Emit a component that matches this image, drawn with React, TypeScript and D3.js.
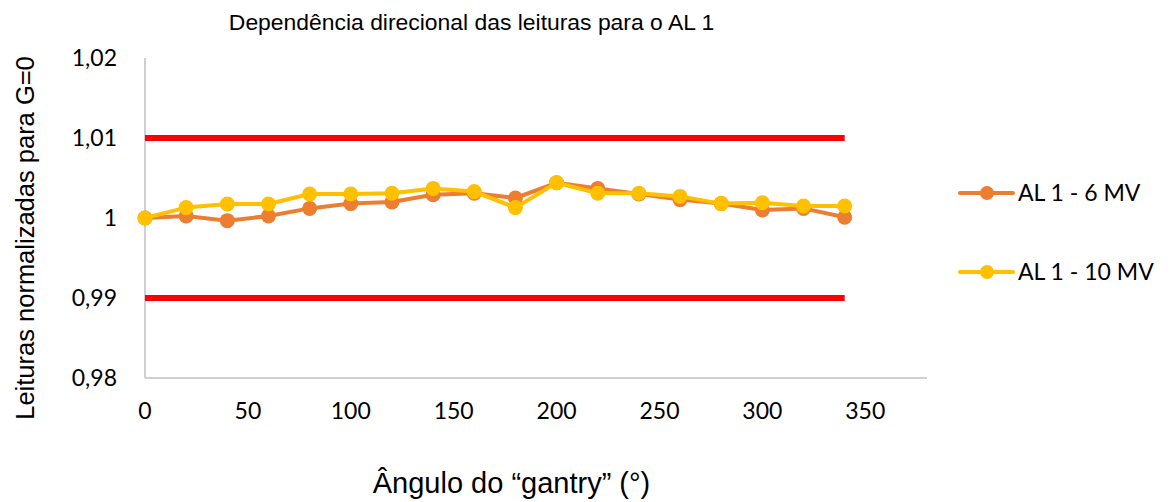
import React from "react";
import * as d3 from "d3";

const angles = [0, 20, 40, 60, 80, 100, 120, 140, 160, 180, 200, 220, 240, 260, 280, 300, 320, 340];
const series6MV = [1.0, 1.00025, 0.99967, 1.00025, 1.0012, 1.0018, 1.002, 1.0029, 1.0031, 1.0025, 1.0044, 1.0037, 1.003, 1.0023, 1.0018, 1.001, 1.0012, 1.0001];
const series10MV = [1.0, 1.0013, 1.00175, 1.00175, 1.003, 1.003, 1.0031, 1.0037, 1.0033, 1.0013, 1.0044, 1.0031, 1.0031, 1.0027, 1.0018, 1.0019, 1.0015, 1.0015];
const upperLimit = angles.map(() => 1.01);
const lowerLimit = angles.map(() => 0.99);
const xTicks = [0, 50, 100, 150, 200, 250, 300, 350];
const yTicks = [0.98, 0.99, 1.0, 1.01, 1.02];
const seriesNames = ["AL 1 - 6 MV", "AL 1 - 10 MV"];
const title = "Dependência direcional das leituras para o AL 1";
const xTitle = "Ângulo do “gantry” (°)";
const yTitle = "Leituras normalizadas para G=0";

const W = 1172, H = 502;
const tickFont = "Lato, 'Open Sans', sans-serif";
const arial = "'Liberation Sans', Arial, sans-serif";

export default function App() {
  const x = d3.scaleLinear().domain([0, 380]).range([145, 927]);
  const y = d3.scaleLinear().domain([0.98, 1.02]).range([378, 58]);
  const line = d3.line<number>().x((_, i) => x(angles[i])).y((d) => y(d));
  const fmt = (v: number) => (Math.abs(v - 1) < 1e-9 ? "1" : d3.format(".2f")(v).replace(".", ","));
  const colors = ["#ED7D31", "#FFC000"];
  const data = [series6MV, series10MV];
  return (
    <svg width={W} height={H} style={{ position: "absolute", left: 0, top: 0, background: "#fff" }}>
      <rect width={W} height={H} fill="#fff" />
      <text x={471.5} y={30} textAnchor="middle" fontFamily={arial} fontSize={22.9} fill="#000">{title}</text>
      {/* axes */}
      <line x1={x(0)} x2={x(0)} y1={y(1.02)} y2={y(0.98)} stroke="#D0D0D0" strokeWidth={2} />
      <line x1={x(0)} x2={x(380)} y1={y(0.98)} y2={y(0.98)} stroke="#D0D0D0" strokeWidth={2} />
      {yTicks.map((t) => (
        <text key={t} x={117} y={y(t)} dy="0.35em" textAnchor="end" fontFamily={tickFont} fontSize={23} fill="#000">{fmt(t)}</text>
      ))}
      {xTicks.map((t) => (
        <text key={t} x={x(t)} y={419} textAnchor="middle" fontFamily={tickFont} fontSize={23} fill="#000">{t}</text>
      ))}
      {/* limit lines */}
      <path d={line(upperLimit) || ""} fill="none" stroke="#FF0000" strokeWidth={6} />
      <path d={line(lowerLimit) || ""} fill="none" stroke="#FF0000" strokeWidth={6} />
      {data.map((s, k) => (
        <g key={k}>
          <path d={line(s) || ""} fill="none" stroke={colors[k]} strokeWidth={4} strokeLinejoin="round" />
          {s.map((v, i) => (
            <circle key={i} cx={x(angles[i])} cy={y(v)} r={7.5} fill={colors[k]} />
          ))}
        </g>
      ))}
      {/* legend */}
      {seriesNames.map((n, k) => {
        const ly = k === 0 ? 193 : 272;
        return (
          <g key={n}>
            <line x1={960} x2={1013} y1={ly} y2={ly} stroke={colors[k]} strokeWidth={4} strokeLinecap="round" />
            <circle cx={987} cy={ly} r={7} fill={colors[k]} />
            <text x={1018} y={ly} dy="0.35em" fontFamily={tickFont} fontSize={23} fill="#000">{n}</text>
          </g>
        );
      })}
      <text x={511.5} y={493} textAnchor="middle" fontFamily={arial} fontSize={29} fill="#000">{xTitle}</text>
      <text transform={`translate(34,238) rotate(-90)`} textAnchor="middle" fontFamily={arial} fontSize={25.5} fill="#000">{yTitle}</text>
    </svg>
  );
}
